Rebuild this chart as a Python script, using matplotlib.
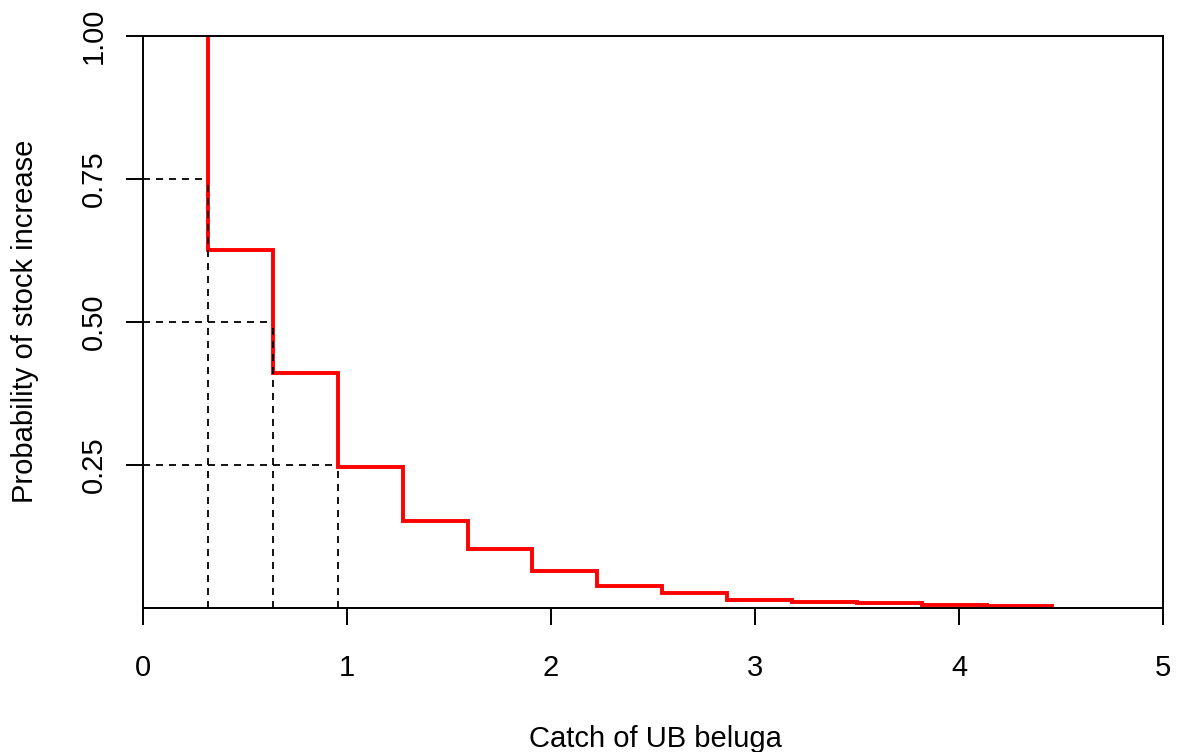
import matplotlib
matplotlib.use("Agg")
import matplotlib.pyplot as plt

plt.rcParams['font.family'] = ['Liberation Sans', 'DejaVu Sans']

# catch levels (x) and probability of increase, drawn as steps
catch = [0.318, 0.636, 0.955, 1.273, 1.591, 1.909, 2.227, 2.545,
         2.864, 3.182, 3.500, 3.818, 4.136, 4.455]
prob = [1.000, 0.626, 0.411, 0.246, 0.152, 0.103, 0.064, 0.038,
        0.026, 0.013, 0.010, 0.007, 0.004, 0.003]

# reference probabilities and the catch that gives them
ref_prob = [0.75, 0.50, 0.25]
ref_catch = [0.318, 0.636, 0.955]

xticks = [0, 1, 2, 3, 4, 5]
yticks = [0.25, 0.50, 0.75, 1.00]
ytick_labels = ['0.25', '0.50', '0.75', '1.00']

fig = plt.figure(figsize=(11.8, 7.52), dpi=100)
ax = fig.add_axes([143 / 1180, 1 - 607.5 / 752, 1020 / 1180, 571.5 / 752])

ax.step(catch, prob, where='pre', color='red', lw=2.8, zorder=2,
        solid_joinstyle='miter')

for p, c in zip(ref_prob, ref_catch):
    ax.plot([0, c], [p, p], color='black', lw=1.3, dashes=(3.9, 3.3), zorder=3)
    ax.plot([c, c], [0, p], color='black', lw=1.3, dashes=(3.9, 3.3), zorder=3)

ax.set_xlim(0, 5)
ax.set_ylim(0, 1)
ax.set_xticks(xticks)
ax.set_xticklabels([str(t) for t in xticks])
ax.set_yticks(yticks)
ax.set_yticklabels(ytick_labels, rotation=90, va='center')

for s in ax.spines.values():
    s.set_linewidth(1.4)
ax.tick_params(axis='both', direction='out', length=12.5, width=1.4,
               labelsize=21)
ax.tick_params(axis='x', pad=21)
ax.tick_params(axis='y', pad=13)

fig.text(25 / 1180, 1 - 321.75 / 752, 'Probability of stock increase',
         rotation=90, ha='center', va='center', fontsize=21)
fig.text(655 / 1180, 5 / 752, 'Catch of UB beluga',
         ha='center', va='baseline', fontsize=21)

fig.savefig('out.png', dpi=100)
